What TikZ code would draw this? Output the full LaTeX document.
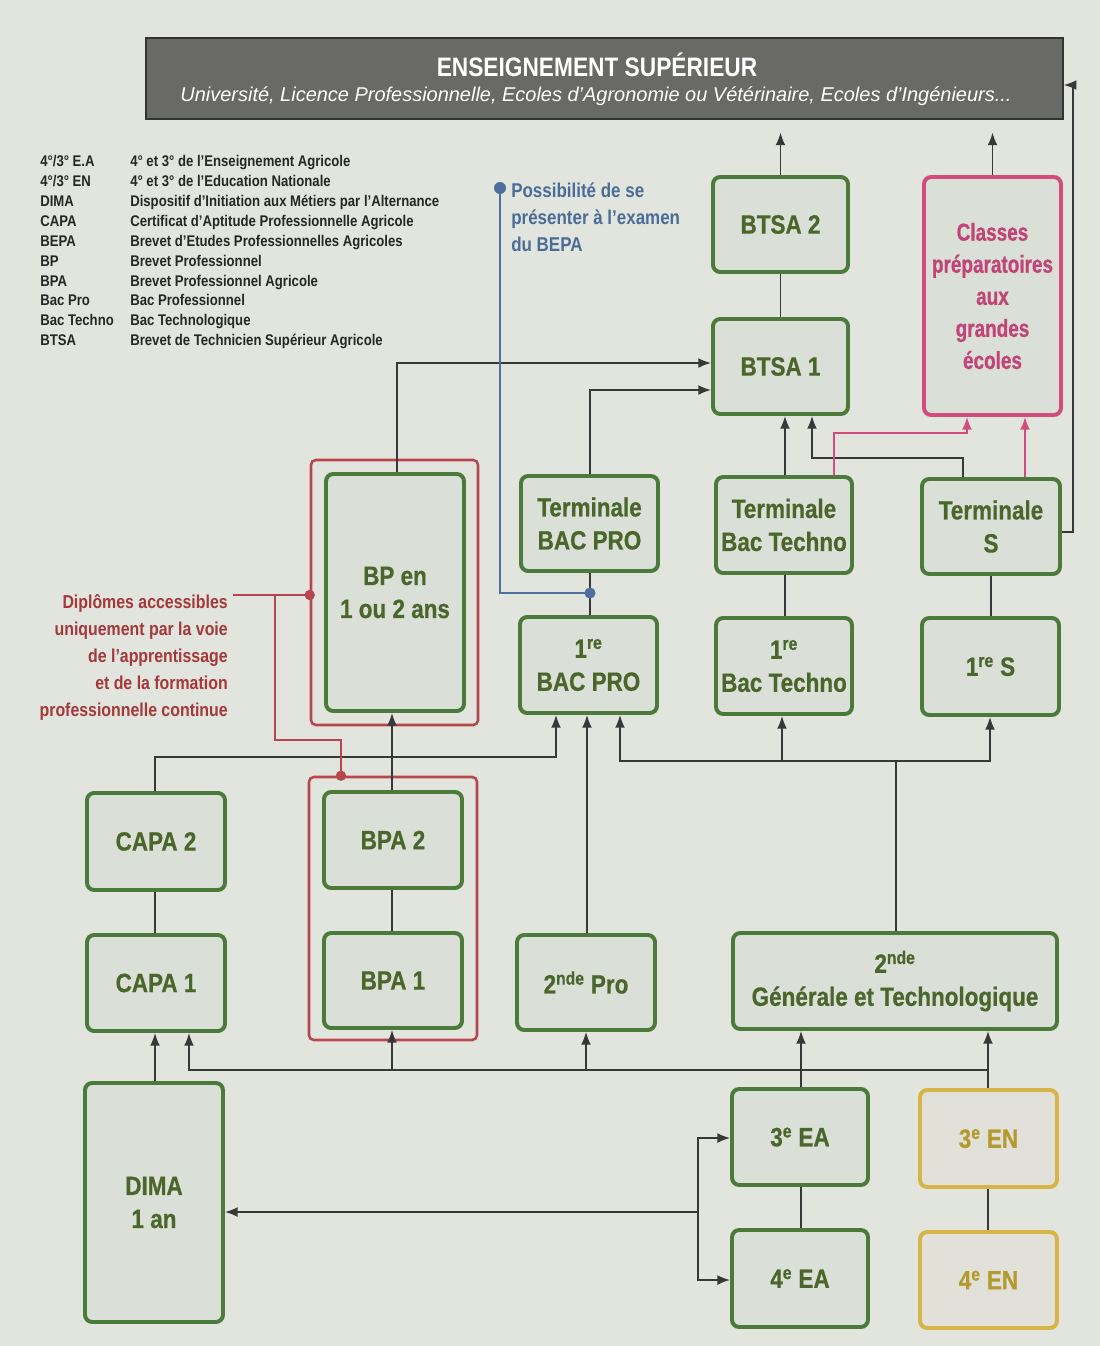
\documentclass[tikz,border=0pt]{standalone}
\usepackage{fontspec}
\setmainfont{Liberation Sans}[FakeStretch=0.85]
\newfontfamily\widefont{Liberation Sans}
\newfontfamily\boxfont{Liberation Sans}[FakeStretch=0.85, BoldFeatures={FakeBold=0.6}]
\newfontfamily\narrowfont{Liberation Sans}[FakeStretch=0.77, BoldFeatures={FakeBold=0.6}]
\usetikzlibrary{arrows.meta}
\definecolor{paper}{HTML}{E2E5DE}
\definecolor{boxfill}{HTML}{DADFD7}
\definecolor{yfill}{HTML}{E2E1D9}
\definecolor{gborder}{HTML}{4C7A3A}
\definecolor{gtext}{HTML}{4A662B}
\definecolor{pborder}{HTML}{D44C7E}
\definecolor{ptext}{HTML}{C24476}
\definecolor{yborder}{HTML}{D6B448}
\definecolor{ytext}{HTML}{B39A2E}
\definecolor{redline}{HTML}{B8464F}
\definecolor{blueline}{HTML}{4D6F9C}
\definecolor{conn}{HTML}{383838}
\definecolor{hdrfill}{HTML}{696966}
\definecolor{legtext}{HTML}{262626}
\definecolor{labred}{HTML}{A4383A}
\definecolor{labblue}{HTML}{4A6C96}
\newcommand\bnode[7]{\node[#1, minimum width={(#5-#3)*0.25mm}, minimum height={(#6-#4)*0.25mm}] (#2) at ({(#3+#5)/2},{(#4+#6)/2}) {#7};}
\tikzset{
  gbox/.style={draw=gborder, line width=2.8pt, rounded corners=1.8mm, fill=boxfill, text=gtext, align=center, inner sep=0pt, font=\boxfont\bfseries\fontsize{18.8}{23.5}\selectfont},
  pbox/.style={gbox, draw=pborder, text=ptext, font=\narrowfont\bfseries\fontsize{17.5}{22.8}\selectfont},
  ybox/.style={gbox, draw=yborder, text=ytext, fill=yfill},
  hdrbox/.style={draw=black!80, line width=1pt, fill=hdrfill, inner sep=0pt},
  hdrtitle/.style={text=white, inner sep=0pt, font=\bfseries\fontsize{19}{23}\selectfont},
  hdrsub/.style={text=white, inner sep=0pt, font=\widefont\itshape\fontsize{14.2}{17}\selectfont},
  frame/.style={draw=redline, line width=1.8pt, rounded corners=1.2mm, inner sep=0pt},
  link/.style={draw=conn, line width=1.1pt},
  arr/.style={link, -{Latex[length=9pt,width=7pt]}},
  plink/.style={draw=pborder, line width=1.3pt},
  parr/.style={plink, -{Latex[length=9pt,width=7pt]}},
  rlink/.style={draw=redline, line width=1.6pt},
  blink/.style={draw=blueline, line width=1.6pt},
  leg/.style={anchor=base west, inner sep=0pt, text=legtext, font=\bfseries\fontsize{11}{13}\selectfont},
  note/.style={inner sep=0pt, font=\bfseries\fontsize{14.2}{19.2}\selectfont},
  rnote/.style={inner sep=0pt, font=\bfseries\fontsize{13.3}{19.2}\selectfont},
}
\begin{document}
\begin{tikzpicture}[x=0.25mm,y=-0.25mm]
\fill[paper] (0,0) rectangle (1100,1346);
\useasboundingbox (0,0) rectangle (1100,1346);

% header
\bnode{hdrbox}{hdr}{146}{38}{1063}{119}{}
\node[hdrtitle] (hdrT) at (597,65) {ENSEIGNEMENT SUPÉRIEUR};
\node[hdrsub] (hdrS) at (596,96) {Université, Licence Professionnelle, Ecoles d’Agronomie ou Vétérinaire, Ecoles d’Ingénieurs...};

% legend
\node[leg] (l0a) at (40,166) {4°/3° E.A};
\node[leg] (l0b) at (130,166) {4° et 3° de l’Enseignement Agricole};
\node[leg] (l1a) at (40,186) {4°/3° EN};
\node[leg] (l1b) at (130,186) {4° et 3° de l’Education Nationale};
\node[leg] (l2a) at (40,206) {DIMA};
\node[leg] (l2b) at (130,206) {Dispositif d’Initiation aux Métiers par l’Alternance};
\node[leg] (l3a) at (40,226) {CAPA};
\node[leg] (l3b) at (130,226) {Certificat d’Aptitude Professionnelle Agricole};
\node[leg] (l4a) at (40,246) {BEPA};
\node[leg] (l4b) at (130,246) {Brevet d’Etudes Professionnelles Agricoles};
\node[leg] (l5a) at (40,266) {BP};
\node[leg] (l5b) at (130,266) {Brevet Professionnel};
\node[leg] (l6a) at (40,286) {BPA};
\node[leg] (l6b) at (130,286) {Brevet Professionnel Agricole};
\node[leg] (l7a) at (40,305) {Bac Pro};
\node[leg] (l7b) at (130,305) {Bac Professionnel};
\node[leg] (l8a) at (40,325) {Bac Techno};
\node[leg] (l8b) at (130,325) {Bac Technologique};
\node[leg] (l9a) at (40,345) {BTSA};
\node[leg] (l9b) at (130,345) {Brevet de Technicien Supérieur Agricole};

% notes
\node[note, text=labblue, align=left, anchor=north west] (poss) at (511,183) {Possibilité de se\\présenter à l’examen\\du BEPA};
\node[rnote, text=labred, align=right, anchor=north east] (dip) at (228,594) {Diplômes accessibles\\uniquement par la voie\\de l’apprentissage\\et de la formation\\professionnelle continue};

% red frames
\bnode{frame}{bpf}{311}{460}{478}{725}{}
\bnode{frame}{bpaf}{309}{777}{477}{1040}{}

% boxes
\bnode{gbox}{btsa2}{713}{177}{848}{272}{BTSA 2}
\bnode{gbox}{btsa1}{713}{319}{848}{414}{BTSA 1}
\bnode{pbox}{prep}{924}{177}{1061}{415}{Classes\\préparatoires\\aux\\grandes\\écoles}
\bnode{gbox}{tbp}{521}{476}{658}{571}{Terminale\\BAC PRO}
\bnode{gbox}{tbt}{716}{477}{852}{573}{Terminale\\Bac Techno}
\bnode{gbox}{ts}{922}{479}{1060}{574}{Terminale\\S}
\bnode{gbox}{bp}{326}{474}{464}{711}{BP en\\1 ou 2 ans}
\bnode{gbox}{pbp}{520}{617}{657}{713}{1\textsuperscript{re}\\BAC PRO}
\bnode{gbox}{pbt}{716}{618}{852}{714}{1\textsuperscript{re}\\Bac Techno}
\bnode{gbox}{ps}{922}{618}{1059}{715}{1\textsuperscript{re} S}
\bnode{gbox}{capa2}{87}{793}{225}{890}{CAPA 2}
\bnode{gbox}{bpa2}{324}{792}{462}{888}{BPA 2}
\bnode{gbox}{capa1}{87}{935}{225}{1031}{CAPA 1}
\bnode{gbox}{bpa1}{324}{933}{462}{1028}{BPA 1}
\bnode{gbox}{spro}{517}{935}{655}{1030}{2\textsuperscript{nde} Pro}
\bnode{gbox}{sgt}{733}{933}{1057}{1029}{2\textsuperscript{nde}\\Générale et Technologique}
\bnode{gbox}{dima}{85}{1083}{223}{1322}{DIMA\\1 an}
\bnode{gbox}{tea}{732}{1089}{868}{1185}{3\textsuperscript{e} EA}
\bnode{ybox}{ten}{920}{1090}{1057}{1187}{3\textsuperscript{e} EN}
\bnode{gbox}{qea}{732}{1230}{868}{1327}{4\textsuperscript{e} EA}
\bnode{ybox}{qen}{920}{1232}{1057}{1328}{4\textsuperscript{e} EN}

% junction coordinates
\coordinate (j1) at (896,761);
\coordinate (j2) at (782,761);
\coordinate (jb) at (988,1070);
\coordinate (jbpa) at (392,1070);
\coordinate (jpro) at (586,1070);
\coordinate (jd) at (698,1212);
\coordinate (dipEnd) at (233,595);
\coordinate (rb) at (275,595);
\coordinate (bd) at (500,188);
\coordinate (bd2) at (590,593);

% connectors top
\draw[arr, shorten >=3.2mm] (btsa2.north) -- (btsa2.north |- hdr.south);
\draw[arr, shorten >=3.2mm] (prep.north) -- (prep.north |- hdr.south);
\draw[link] (btsa1.north) -- (btsa2.south);
\draw[arr] (ts.east |- 0,532) -- (1073,532) -- (1073,85) -- (hdr.east |- 0,85);
\draw[arr] (785,0 |- tbt.north) -- (785,0 |- btsa1.south);
\draw[arr] (963,0 |- ts.north) -- (963,458) -- (812,458) -- (812,0 |- btsa1.south);
\draw[parr] (834,0 |- tbt.north) -- (834,433) -- (967,433) -- (967,0 |- prep.south);
\draw[parr] (1025,0 |- ts.north) -- (1025,0 |- prep.south);
\draw[arr] (397,0 |- bp.north) -- (397,363) -- (btsa1.west |- 0,363);
\draw[arr] (590,0 |- tbp.north) -- (590,390) -- (btsa1.west |- 0,390);

% middle
\draw[link] (590,0 |- pbp.north) -- (590,0 |- tbp.south);
\draw[link] (785,0 |- pbt.north) -- (785,0 |- tbt.south);
\draw[link] (991,0 |- ps.north) -- (991,0 |- ts.south);
\draw[arr] (392,0 |- bpa2.north) -- (392,0 |- bp.south);
\draw[link] (392,0 |- bpa1.north) -- (392,0 |- bpa2.south);
\draw[link] (155,0 |- capa1.north) -- (155,0 |- capa2.south);
\draw[arr] (155,0 |- capa2.north) -- (155,757) -- (556,757) -- (556,0 |- pbp.south);
\draw[arr] (587,0 |- spro.north) -- (587,0 |- pbp.south);
\draw[arr] (896,0 |- sgt.north) -- (j1) -- (620,761) -- (620,0 |- pbp.south);
\draw[arr] (j1) -- (990,761) -- (990,0 |- ps.south);
\draw[arr] (j2) -- (782,0 |- pbt.south);

% bottom
\draw[arr] (801,0 |- tea.north) -- (801,0 |- sgt.south);
\draw[arr] (988,0 |- ten.north) -- (988,0 |- sgt.south);
\draw[arr] (jb) -- (189,1070) -- (189,0 |- capa1.south);
\draw[arr] (jbpa) -- (392,0 |- bpa1.south);
\draw[arr] (jpro) -- (586,0 |- spro.south);
\draw[arr] (155,0 |- dima.north) -- (155,0 |- capa1.south);
\draw[link] (801,0 |- qea.north) -- (801,0 |- tea.south);
\draw[link] (988,0 |- qen.north) -- (988,0 |- ten.south);
\draw[arr] (jd) -- (dima.east |- jd);
\draw[arr] (jd) -- (698,1138) -- (tea.west |- 0,1138);
\draw[arr] (jd) -- (698,1280) -- (qea.west |- 0,1280);

% red links
\draw[rlink] (dipEnd) -- (bpf.west |- dipEnd);
\draw[rlink] (rb) -- (275,740) -- (341,740) -- (341,0 |- bpaf.north);
\fill[redline] (bpf.west |- dipEnd) circle (1.3mm);
\fill[redline] (341,0 |- bpaf.north) circle (1.3mm);

% blue link
\draw[blink] (bd) -- (500,593) -- (bd2);
\fill[blueline] (bd) circle (1.5mm);
\fill[blueline] (bd2) circle (1.4mm);
\end{tikzpicture}
\end{document}
